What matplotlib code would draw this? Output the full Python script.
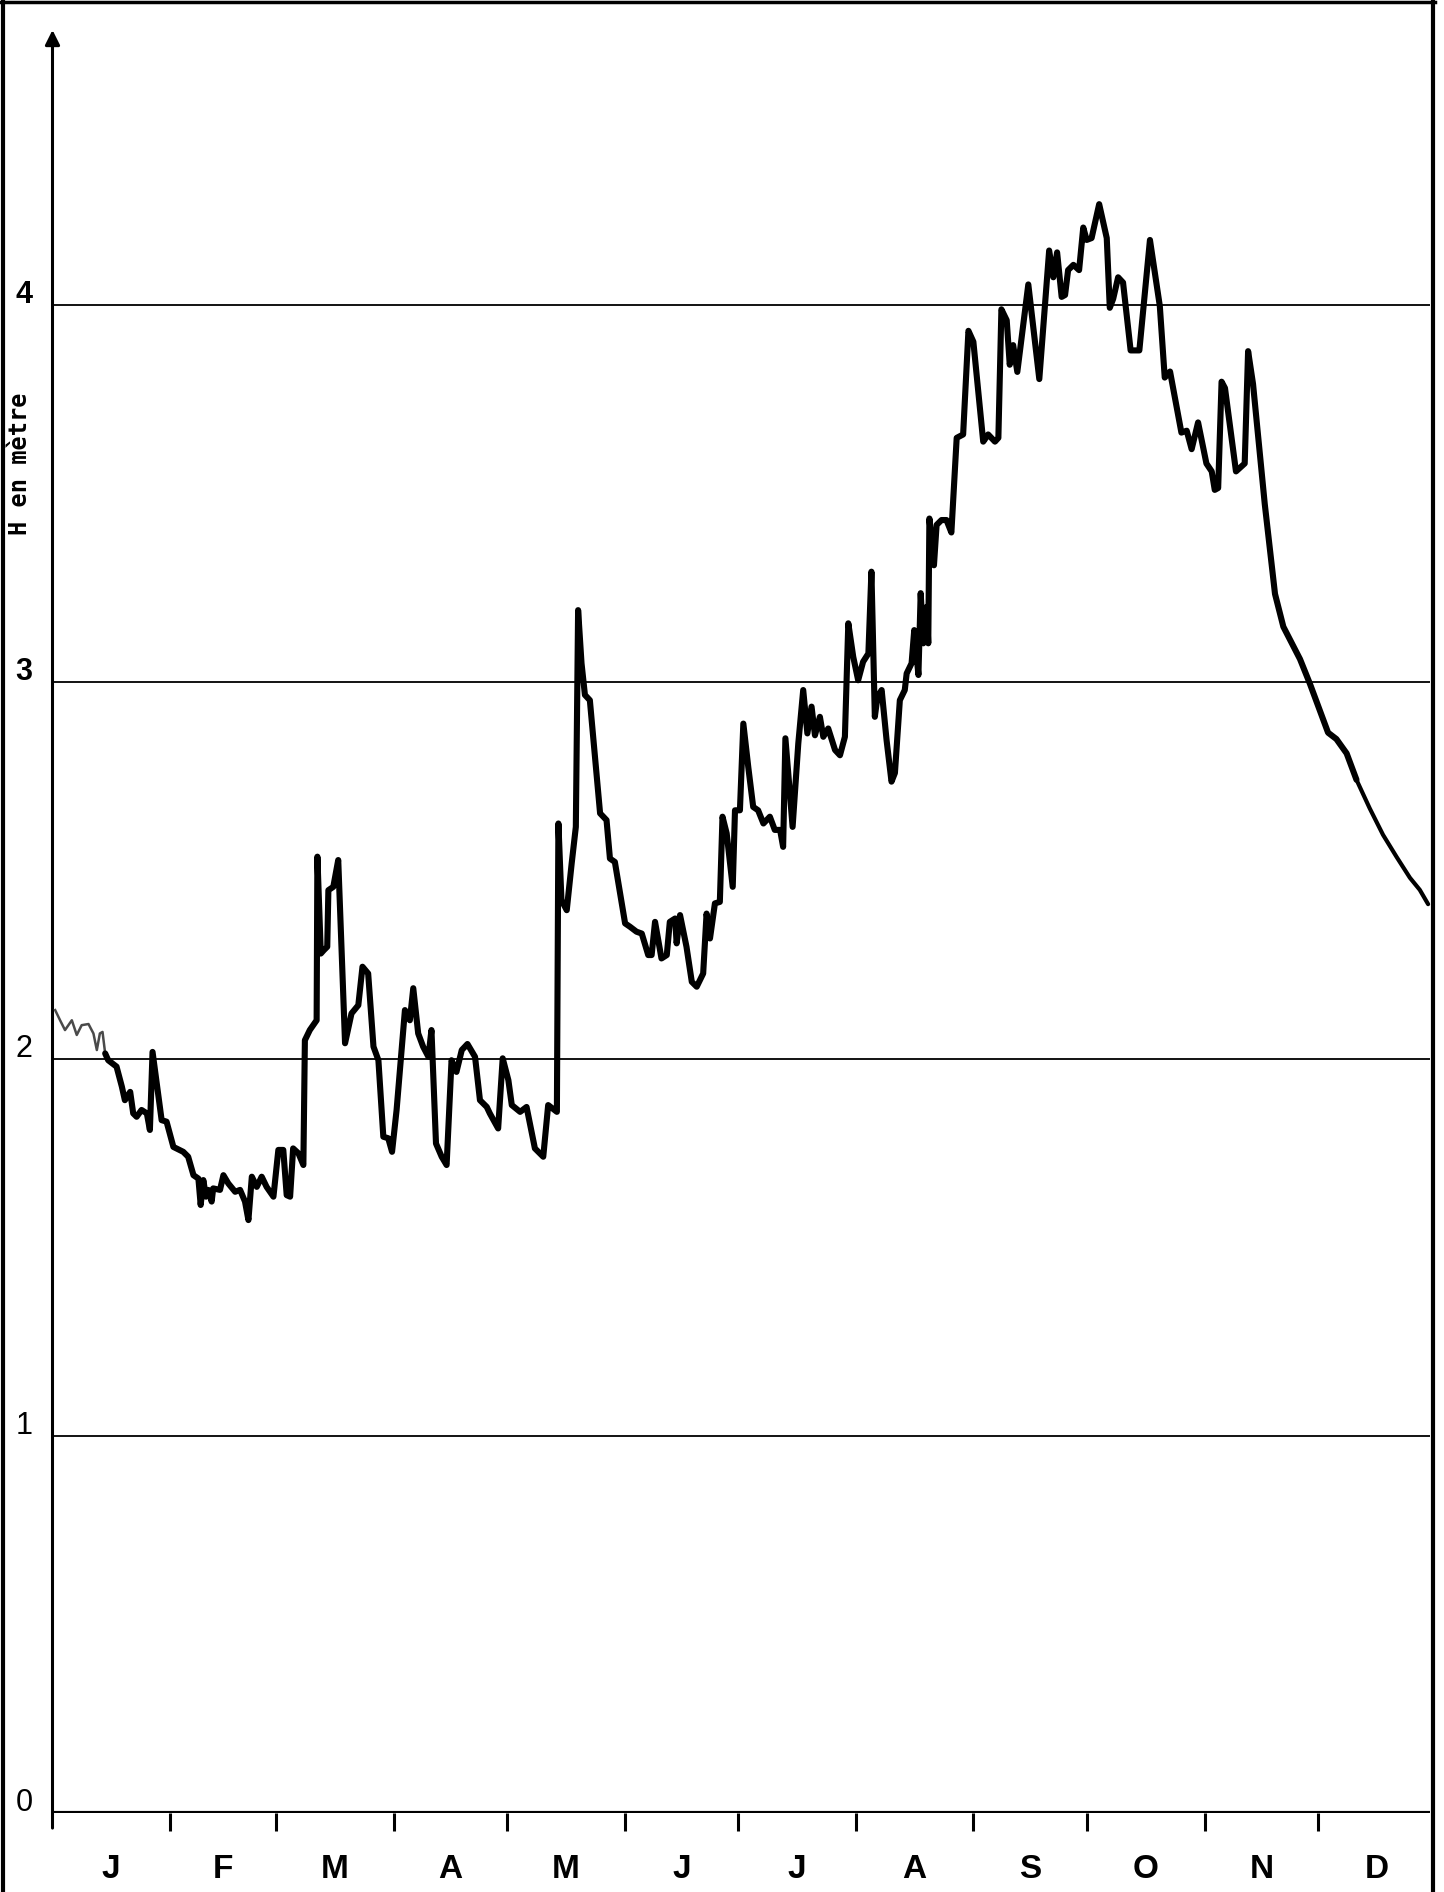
import matplotlib
matplotlib.use('Agg')
import matplotlib.pyplot as plt
from matplotlib import font_manager
from matplotlib.lines import Line2D

# ---- Data (day of year, water level in m) ----

days = [
    0.7, 2.0, 3.3, 5.1, 6.4, 7.7, 9.5, 10.8, 11.7, 12.5, 13.2, 13.9,
    14.7, 16.9, 18.3, 19.1, 20.5, 21.3, 22.2, 23.5, 24.9, 25.7, 26.4, 27.5,
    28.8, 30.1, 31.9, 34.5, 35.8, 37.2, 38.5, 39.1, 39.8, 40.5, 41.1, 42.0,
    42.4, 44.2, 45.1, 46.4, 48.2, 49.5, 50.8, 51.7, 52.6, 53.9, 55.2, 56.5,
    58.3, 59.6, 60.9, 61.8, 62.7, 63.5, 64.9, 66.2, 66.6, 67.9, 69.7, 69.9,
    70.8, 71.6, 72.5, 72.8, 74.1, 75.4, 77.2, 78.9, 80.7, 81.8, 83.3, 84.7,
    86.0, 87.3, 88.6, 89.6, 90.8, 93.0, 94.3, 95.2, 96.5, 97.8, 99.2, 100.0,
    101.2, 102.7, 104.0, 105.3, 106.6, 108.0, 109.5, 111.5, 112.8, 114.6, 115.4, 117.6,
    118.8, 120.3, 121.2, 123.4, 125.1, 127.3, 129.5, 130.8, 133.1, 133.5, 134.3, 135.7,
    137.0, 138.1, 138.7, 139.6, 140.5, 141.8, 144.5, 146.2, 147.1, 148.4, 151.1, 152.4,
    154.1, 155.5, 157.2, 158.1, 159.0, 160.7, 162.1, 162.9, 164.3, 164.7, 165.6, 167.3,
    168.7, 170.0, 171.7, 172.6, 173.5, 174.8, 176.1, 176.8, 177.9, 179.5, 180.1, 181.4,
    182.3, 183.6, 184.9, 186.2, 187.6, 189.3, 190.6, 192.0, 192.8, 193.4, 195.3, 196.8,
    198.1, 199.2, 200.3, 201.2, 202.5, 203.4, 204.7, 206.5, 207.8, 209.1, 210.0, 211.3,
    212.6, 213.9, 215.3, 216.1, 217.0, 217.7, 218.8, 220.1, 221.4, 222.3, 223.6, 224.9,
    225.4, 226.7, 227.4, 228.5, 229.1, 229.8, 230.7, 231.1, 231.4, 232.6, 233.3, 234.6,
    235.9, 237.2, 238.6, 240.3, 241.7, 243.0, 245.6, 246.9, 248.7, 249.6, 250.4, 251.8,
    252.6, 253.5, 254.6, 257.5, 260.4, 263.0, 264.1, 265.1, 266.3, 267.2, 268.0, 269.4,
    270.9, 272.0, 272.9, 274.2, 276.2, 278.2, 279.0, 279.9, 281.2, 282.5, 284.5, 286.8,
    289.6, 292.2, 293.5, 294.9, 297.9, 299.3, 300.6, 302.3, 304.5, 305.9, 306.7, 307.6,
    308.5, 309.4, 312.3, 314.6, 315.5, 316.8, 319.9, 322.6, 324.8, 329.2, 331.8, 336.6,
    338.8, 341.5, 344.1, 347.6, 351.1, 354.7, 358.2, 360.8, 363.0,
]

levels = [
    2.130, 2.103, 2.077, 2.103, 2.064, 2.090, 2.093, 2.068, 2.024, 2.068, 2.072, 2.015,
    1.997, 1.980, 1.927, 1.891, 1.913, 1.856, 1.847, 1.865, 1.856, 1.812, 2.019, 1.936,
    1.838, 1.834, 1.767, 1.754, 1.741, 1.692, 1.683, 1.613, 1.679, 1.635, 1.653, 1.622,
    1.657, 1.653, 1.692, 1.670, 1.648, 1.653, 1.622, 1.573, 1.688, 1.661, 1.688, 1.661,
    1.635, 1.759, 1.759, 1.639, 1.635, 1.763, 1.750, 1.719, 2.050, 2.077, 2.103, 2.537,
    2.280, 2.289, 2.298, 2.448, 2.457, 2.528, 2.042, 2.121, 2.143, 2.245, 2.227, 2.033,
    1.997, 1.794, 1.790, 1.754, 1.865, 2.130, 2.103, 2.188, 2.068, 2.033, 2.006, 2.077,
    1.776, 1.741, 1.719, 1.997, 1.966, 2.024, 2.040, 2.006, 1.891, 1.873, 1.856, 1.816,
    2.002, 1.944, 1.878, 1.860, 1.873, 1.763, 1.741, 1.878, 1.860, 2.625, 2.422, 2.395,
    2.519, 2.616, 3.191, 3.050, 2.966, 2.952, 2.652, 2.634, 2.532, 2.523, 2.360, 2.351,
    2.338, 2.333, 2.276, 2.276, 2.364, 2.267, 2.276, 2.364, 2.373, 2.307, 2.382, 2.298,
    2.205, 2.192, 2.227, 2.386, 2.320, 2.413, 2.417, 2.643, 2.599, 2.457, 2.660, 2.660,
    2.890, 2.775, 2.669, 2.660, 2.625, 2.643, 2.608, 2.608, 2.563, 2.851, 2.616, 2.837,
    2.979, 2.864, 2.935, 2.859, 2.908, 2.855, 2.877, 2.820, 2.806, 2.855, 3.156, 3.067,
    3.005, 3.054, 3.076, 3.293, 2.908, 2.961, 2.979, 2.846, 2.736, 2.759, 2.952, 2.979,
    3.023, 3.050, 3.138, 3.019, 3.236, 3.103, 3.200, 3.103, 3.434, 3.310, 3.417, 3.430,
    3.430, 3.397, 3.648, 3.657, 3.932, 3.903, 3.638, 3.657, 3.638, 3.648, 3.989, 3.960,
    3.842, 3.894, 3.823, 4.055, 3.804, 4.145, 4.074, 4.140, 4.022, 4.027, 4.093, 4.107,
    4.093, 4.206, 4.173, 4.178, 4.268, 4.178, 3.993, 4.017, 4.074, 4.060, 3.880, 3.880,
    4.173, 3.998, 3.808, 3.824, 3.662, 3.667, 3.618, 3.689, 3.580, 3.559, 3.510, 3.515,
    3.797, 3.780, 3.559, 3.580, 3.878, 3.791, 3.472, 3.234, 3.147, 3.061, 2.996, 2.866,
    2.849, 2.811, 2.741, 2.665, 2.595, 2.536, 2.481, 2.449, 2.411,
]

month_starts = [0, 31, 59, 90, 120, 151, 181, 212, 243, 273, 304, 334, 365]
month_labels = ['J', 'F', 'M', 'A', 'M', 'J', 'J', 'A', 'S', 'O', 'N', 'D']
grid_levels  = [1, 2, 3, 4]
ytick_values = [0, 1, 2, 3, 4]
ytick_labels = ['0', '1', '2', '3', '4']
ytick_weights = ['normal', 'normal', 'normal', 'bold', 'bold']
y_label = 'H en mètre'

# ---- Layout (pixels of the 1444 x 1892 page) ----

W, H = 1444, 1892
x_max, y_max = 363.5, 4.73
ax_left, ax_right, ax_bottom, ax_top = 52.5, 1430, 1813, 30

installed = {f.name for f in font_manager.fontManager.ttflist}
month_font = 'Liberation Sans Narrow' if 'Liberation Sans Narrow' in installed else 'Liberation Sans'

fig = plt.figure(figsize=(W / 100, H / 100), dpi=100)
ax = fig.add_axes([ax_left / W, (H - ax_bottom) / H,
                   (ax_right - ax_left) / W, (ax_bottom - ax_top) / H])
ax.set_xlim(0, x_max)
ax.set_ylim(0, y_max)
for spine in ax.spines.values():
    spine.set_visible(False)
ax.set_yticks([])

# grid lines and axes
ax.hlines(grid_levels, 0, x_max, color='black', linewidth=1.3, zorder=1)
ax.hlines(0, 0, x_max, color='black', linewidth=3.0, zorder=2)
ax.annotate('', xy=(0, y_max), xytext=(0, -0.04), xycoords='data',
            arrowprops=dict(arrowstyle='-|>', color='black', lw=2.2,
                            mutation_scale=22, shrinkA=0, shrinkB=0),
            annotation_clip=False, zorder=3)

# month ticks below the time axis
ax.set_xticks(month_starts[1:-1])
ax.set_xticklabels([])
ax.tick_params(axis='x', direction='out', length=13, width=2.2, color='black')

month_mids = [(a + b) / 2 for a, b in zip(month_starts[:-1], month_starts[1:])]
for xm, lab in zip(month_mids, month_labels):
    ax.text(xm, -0.151, lab, ha='center', va='center', fontsize=24,
            fontweight='bold', family=month_font, clip_on=False)

ytr = ax.get_yaxis_transform()
for v, lab, wt in zip(ytick_values, ytick_labels, ytick_weights):
    ax.text(-0.0207, v + 0.005, lab, transform=ytr, ha='center', va='baseline',
            fontsize=22, fontweight=wt, family='Liberation Sans', clip_on=False)

ax.text(-0.0236, 3.58, y_label, transform=ytr, rotation=90, ha='center',
        va='center', fontsize=17, fontweight='bold', family='DejaVu Sans Mono',
        clip_on=False)

# water level curve: faint start, heavy body, lighter tail
start = [(d, v) for d, v in zip(days, levels) if d <= 13.9]
body  = [(d, v) for d, v in zip(days, levels) if 13.9 <= d <= 344.1]
tail  = [(d, v) for d, v in zip(days, levels) if d >= 344.1]

ax.plot(*zip(*start), color='#4a4a4a', linewidth=1.8, zorder=4, clip_on=False)
ax.plot(*zip(*body), color='black', linewidth=4.4, zorder=5,
        solid_joinstyle='round', solid_capstyle='round', clip_on=False)
ax.plot(*zip(*tail), color='black', linewidth=3.0, zorder=5,
        solid_joinstyle='round', solid_capstyle='round', clip_on=False)

# scanned page border
fig.add_artist(Line2D([3 / W, 3 / W], [0, 1], color='black', linewidth=3))
fig.add_artist(Line2D([0, 1435 / W], [1 - 2 / H, 1 - 2 / H], color='black', linewidth=2.5))
fig.add_artist(Line2D([1433 / W, 1433 / W], [0, 1], color='black', linewidth=3))

fig.savefig('out.png', dpi=100)
